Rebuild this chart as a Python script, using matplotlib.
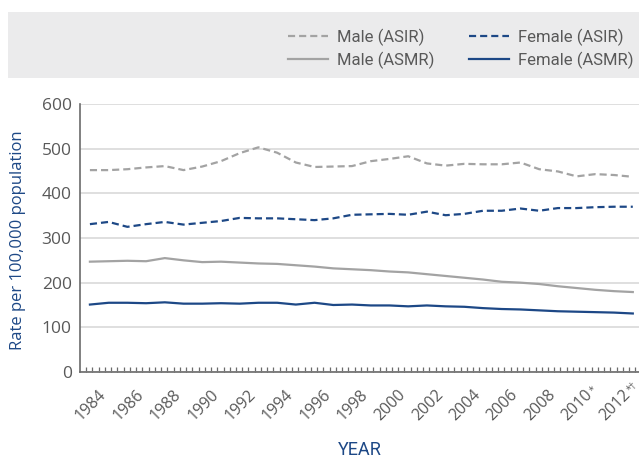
import numpy as np
import matplotlib
matplotlib.use("Agg")
import matplotlib.pyplot as plt
from matplotlib.patches import Rectangle

years = list(range(1984, 2014))

male_asir = [452, 452, 454, 458, 461, 452, 460, 472, 490, 503, 491, 469, 459,
             460, 461, 472, 477, 483, 467, 462, 466, 465, 465, 469, 454, 449,
             438, 443, 441, 437]
female_asir = [331, 336, 325, 331, 336, 330, 334, 338, 345, 344, 344, 342, 340,
               344, 352, 353, 354, 352, 359, 351, 354, 361, 361, 366, 361, 367,
               367, 369, 370, 370]
male_asmr = [247, 248, 249, 248, 255, 250, 246, 247, 245, 243, 242, 239, 236,
             232, 230, 228, 225, 223, 219, 215, 211, 207, 202, 200, 197, 192,
             188, 184, 181, 179]
female_asmr = [151, 155, 155, 154, 156, 153, 153, 154, 153, 155, 155, 151, 155,
               150, 151, 149, 149, 147, 149, 147, 146, 143, 141, 140, 138, 136,
               135, 134, 133, 131]

label_years = list(range(1984, 2013, 2))
label_marks = {2010: "*", 2012: "*\u2020"}

GREY = "#a3a3a3"
BLUE = "#1d4886"
TXT = "#595959"

plt.rcParams.update({"font.family": ["Open Sans", "DejaVu Sans"], "font.size": 12})
narrow = ["Liberation Sans Narrow", "Roboto", "DejaVu Sans"]

fig = plt.figure(figsize=(6.39, 4.58), dpi=100)
ax = fig.add_axes([80 / 639, 86 / 458, 559 / 639, 268 / 458])

# legend band across the top
fig.patches.append(Rectangle((8 / 639, 1 - 78 / 458), 631 / 639, 66 / 458,
                             transform=fig.transFigure, facecolor="#ebebec",
                             edgecolor="none", zorder=0))

dash = (0, (3.2, 1.8))
ax.plot(years, male_asir, color=GREY, lw=1.6, ls=dash, label="Male (ASIR)")
ax.plot(years, male_asmr, color=GREY, lw=1.6, label="Male (ASMR)")
ax.plot(years, female_asir, color=BLUE, lw=1.6, ls=dash, label="Female (ASIR)")
ax.plot(years, female_asmr, color=BLUE, lw=1.6, label="Female (ASMR)")

x0 = 1983.47
ax.set_xlim(x0, x0 + 559 / 18.72)
ax.set_ylim(0, 600)
ax.set_yticks(range(0, 601, 100))
ax.grid(axis="y", color="#d9d9d9", lw=1.2)
ax.set_axisbelow(True)

# small inward ticks every third of a year, labels drawn separately below
ax.set_xticks(np.arange(x0 + 1 / 3, 2013.4, 1 / 3))
ax.set_xticklabels([])
ax.tick_params(axis="x", direction="in", length=3.5, width=0.9, color="#6b6b6b")
ax.tick_params(axis="y", length=0, pad=6, labelsize=12.5, labelcolor=TXT)

for yr in label_years:
    ax.annotate(str(yr), xy=(yr, 0), xycoords=("data", "axes fraction"),
                xytext=(10, -14.5), textcoords="offset points", rotation=45,
                rotation_mode="anchor", ha="right", va="center",
                fontsize=11.5, color=TXT, annotation_clip=False)
    if yr in label_marks:
        ax.annotate(label_marks[yr], xy=(yr, 0), xycoords=("data", "axes fraction"),
                    xytext=(9.8, -13.4), textcoords="offset points", rotation=45,
                    rotation_mode="anchor", ha="left", va="center_baseline",
                    fontsize=7, color=TXT, annotation_clip=False)

for s in ("top", "right"):
    ax.spines[s].set_visible(False)
for s in ("left", "bottom"):
    ax.spines[s].set_color("#6b6b6b")
    ax.spines[s].set_linewidth(1.2)

ax.set_ylabel("Rate per 100,000 population", color=BLUE, fontsize=12)
ax.yaxis.set_label_coords(-0.097, 0.49)
fig.text(360 / 639, 1 - 450 / 458, "YEAR", ha="center", va="center",
         color=BLUE, fontsize=13, family=narrow)

fig.legend(loc="center right", bbox_to_anchor=(634 / 639, 1 - 48.5 / 458), ncol=2,
           frameon=False, prop={"family": narrow, "size": 12}, handlelength=2.4,
           handletextpad=0.55, columnspacing=2.1, labelspacing=0.35,
           borderpad=0, borderaxespad=0, labelcolor=TXT)

fig.savefig("out.png", dpi=100)
